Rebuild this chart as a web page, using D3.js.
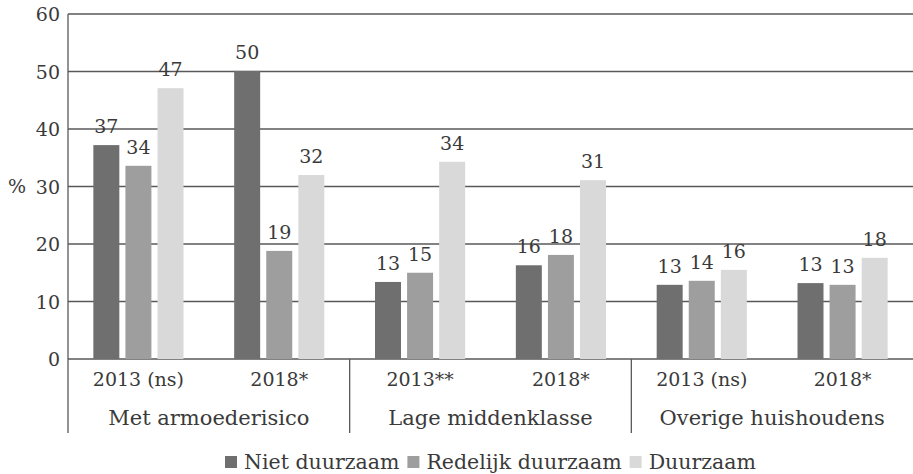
<!DOCTYPE html>
<html>
<head>
<meta charset="utf-8">
<script src="https://cdn.jsdelivr.net/npm/d3@7"></script>
<style>
  body { margin: 0; background: #fff; }
  text { font-family: "DejaVu Serif", serif; fill: #3a3a3a; }
</style>
</head>
<body>
<div id="chart-area"></div>
<script>
// data
var groups = ["Met armoederisico", "Lage middenklasse", "Overige huishoudens"];
var years = ["2013 (ns)", "2018*", "2013**", "2018*", "2013 (ns)", "2018*"];
var seriesNames = ["Niet duurzaam", "Redelijk duurzaam", "Duurzaam"];
var nietDuurzaam = [37.2, 50.1, 13.4, 16.3, 12.9, 13.2];
var redelijkDuurzaam = [33.6, 18.8, 15.0, 18.1, 13.6, 12.9];
var duurzaam = [47.1, 32.0, 34.3, 31.1, 15.5, 17.6];
var yTicks = [0, 10, 20, 30, 40, 50, 60];

var seriesValues = [nietDuurzaam, redelijkDuurzaam, duurzaam];
var colors = ["#6f6f6f", "#9e9e9e", "#d9d9d9"];

var W = 913, H = 474;
var margin = { left: 68, right: 0, top: 14, bottom: 115 };
var width = W - margin.left - margin.right;
var height = H - margin.top - margin.bottom;

var svg = d3.select("#chart-area").append("svg")
  .attr("width", W).attr("height", H);

var g = svg.append("g")
  .attr("transform", "translate(" + margin.left + "," + margin.top + ")");

var cats = years.map(function (d, i) { return i; });
var xscale = d3.scaleBand().domain(cats).range([0, width]);
var xinner = d3.scaleBand().domain(seriesNames)
  .range([0, xscale.bandwidth()])
  .paddingInner(0.19).paddingOuter(0.79);
var yscale = d3.scaleLinear().domain([0, 60]).range([height, 0]);

// gridlines
g.selectAll(".grid").data(yTicks).enter().append("line")
  .attr("x1", 0).attr("x2", width)
  .attr("y1", function (d) { return yscale(d); })
  .attr("y2", function (d) { return yscale(d); })
  .attr("stroke", "#595959").attr("stroke-width", 1.3);

// y axis labels
var yAxis = d3.axisLeft(yscale).tickValues(yTicks).tickSize(0).tickPadding(8);
var ya = g.append("g").call(yAxis);
ya.select(".domain").remove();
ya.selectAll("text").attr("font-size", "19px").attr("font-family", "DejaVu Serif")
  .attr("fill", "#3a3a3a").attr("dy", "0.35em");

g.append("text").attr("x", -60).attr("y", yscale(30)).attr("dy", "0.35em")
  .attr("font-size", "19px").text("%");

// bars
seriesValues.forEach(function (vals, s) {
  g.selectAll(".bar" + s).data(vals).enter().append("rect")
    .attr("x", function (d, i) { return xscale(i) + xinner(seriesNames[s]); })
    .attr("width", xinner.bandwidth())
    .attr("y", function (d) { return yscale(d); })
    .attr("height", function (d) { return height - yscale(d); })
    .attr("fill", colors[s]);
  g.selectAll(".lab" + s).data(vals).enter().append("text")
    .attr("x", function (d, i) { return xscale(i) + xinner(seriesNames[s]) + xinner.bandwidth() / 2; })
    .attr("y", function (d) { return yscale(d) - 12; })
    .attr("text-anchor", "middle")
    .attr("font-size", "19px")
    .text(function (d) { return Math.round(d); });
});

// axis lines
g.append("line").attr("x1", 0).attr("x2", 0).attr("y1", 0).attr("y2", height + 74)
  .attr("stroke", "#595959").attr("stroke-width", 1.3);
[2, 4].forEach(function (i) {
  g.append("line").attr("x1", xscale(i)).attr("x2", xscale(i))
    .attr("y1", height).attr("y2", height + 74)
    .attr("stroke", "#595959").attr("stroke-width", 1.3);
});

// category labels
var xAxis = d3.axisBottom(xscale).tickSize(0).tickPadding(14)
  .tickFormat(function (d) { return years[d]; });
var xa = g.append("g").attr("transform", "translate(0," + height + ")").call(xAxis);
xa.select(".domain").remove();
xa.selectAll("text").attr("font-size", "19px").attr("font-family", "DejaVu Serif")
  .attr("fill", "#3a3a3a");

g.selectAll(".grp").data(groups).enter().append("text")
  .attr("x", function (d, i) { return xscale(i * 2) + xscale.bandwidth(); })
  .attr("y", height + 66)
  .attr("text-anchor", "middle")
  .attr("font-size", "21px")
  .text(function (d) { return d; });

// legend
var legend = svg.append("g").attr("transform", "translate(0,462)");
var lx = 225;
seriesNames.forEach(function (name, i) {
  legend.append("rect").attr("x", lx).attr("y", -6).attr("width", 12).attr("height", 12)
    .attr("fill", colors[i]);
  var t = legend.append("text").attr("x", lx + 19).attr("y", 0).attr("dy", "0.35em")
    .attr("font-size", "20.5px").text(name);
  lx += 19 + t.node().getComputedTextLength() + 8;
});
</script>
</body>
</html>
